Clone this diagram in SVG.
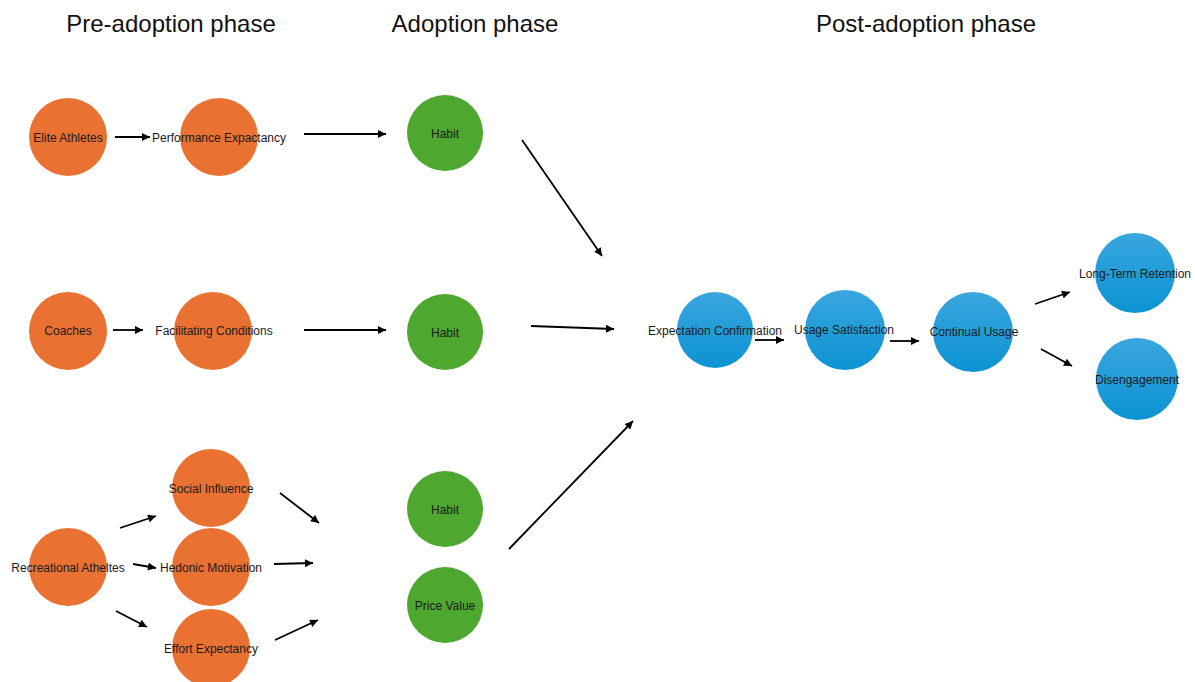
<svg xmlns="http://www.w3.org/2000/svg" width="1195" height="682" viewBox="0 0 1195 682">
<style>
.t{font-family:"Liberation Sans",Arial,sans-serif;font-size:24px;fill:#111;text-anchor:middle}
.l{font-family:"Liberation Sans",Arial,sans-serif;font-size:12px;fill:#1a1a1a;text-anchor:middle;dominant-baseline:central}
.o{fill:#E97132}
.g{fill:#4EA72E}
.b{fill:url(#bg)}
.c{stroke:#000;stroke-width:1.8;fill:none;marker-end:url(#ah)}
</style>
<defs>
<linearGradient id="bg" x1="0" y1="0" x2="0" y2="1">
<stop offset="0" stop-color="#3AA6DF"/>
<stop offset="1" stop-color="#0B93D2"/>
</linearGradient>
<marker id="ah" viewBox="0 0 10 10" markerWidth="9" markerHeight="8" refX="10" refY="5" orient="auto" markerUnits="userSpaceOnUse">
<path d="M0,0 L10,5 L0,10 z" fill="#000"/>
</marker>
</defs>
<rect width="1195" height="682" fill="#fff"/>
<text class="t" x="171" y="32">Pre-adoption phase</text>
<text class="t" x="475" y="32">Adoption phase</text>
<text class="t" x="926" y="32">Post-adoption phase</text>

<g id="connectors">
<line class="c" x1="115" y1="137" x2="150" y2="137"/>
<line class="c" x1="304" y1="134" x2="386" y2="134"/>
<line class="c" x1="113" y1="330" x2="143" y2="330"/>
<line class="c" x1="304" y1="330" x2="386" y2="330"/>
<line class="c" x1="522" y1="140" x2="602" y2="256"/>
<line class="c" x1="531" y1="326" x2="614" y2="329"/>
<line class="c" x1="509" y1="549" x2="633" y2="421"/>
<line class="c" x1="755" y1="340" x2="784" y2="340"/>
<line class="c" x1="890" y1="341" x2="919" y2="341"/>
<line class="c" x1="1035" y1="304" x2="1070" y2="292"/>
<line class="c" x1="1041" y1="349" x2="1072" y2="366"/>
<line class="c" x1="120" y1="528" x2="156" y2="516"/>
<line class="c" x1="133" y1="564" x2="156" y2="568"/>
<line class="c" x1="116" y1="611" x2="147" y2="627"/>
<line class="c" x1="280" y1="493" x2="319" y2="523"/>
<line class="c" x1="274" y1="564" x2="313" y2="563"/>
<line class="c" x1="275" y1="640" x2="318" y2="620"/>
</g>

<g id="elite"><circle class="o" cx="68" cy="137" r="39"/><text class="l" x="68" y="138">Elite Athletes</text></g>
<g id="perf"><circle class="o" cx="219" cy="137" r="39"/><text class="l" x="219" y="138">Performance Expactancy</text></g>
<g id="coaches"><circle class="o" cx="68" cy="331" r="39"/><text class="l" x="68" y="331">Coaches</text></g>
<g id="facil"><circle class="o" cx="213" cy="331" r="39"/><text class="l" x="214" y="331">Facilitating Conditions</text></g>
<g id="recreational"><circle class="o" cx="68" cy="567" r="39"/><text class="l" x="68" y="568">Recreational Atheltes</text></g>
<g id="social"><circle class="o" cx="211" cy="488" r="39"/><text class="l" x="211" y="489">Social Influence</text></g>
<g id="hedonic"><circle class="o" cx="211" cy="567" r="39"/><text class="l" x="211" y="568">Hedonic Motivation</text></g>
<g id="effort"><circle class="o" cx="211" cy="648" r="39"/><text class="l" x="211" y="649">Effort Expectancy</text></g>

<g id="habit1"><circle class="g" cx="445" cy="133" r="38"/><text class="l" x="445" y="134">Habit</text></g>
<g id="habit2"><circle class="g" cx="445" cy="332" r="38"/><text class="l" x="445" y="333">Habit</text></g>
<g id="habit3"><circle class="g" cx="445" cy="509" r="38"/><text class="l" x="445" y="510">Habit</text></g>
<g id="price"><circle class="g" cx="445" cy="605" r="38"/><text class="l" x="445" y="606">Price Value</text></g>

<g id="expconf"><circle class="b" cx="715" cy="330" r="38"/><text class="l" x="715" y="331">Expectation Confirmation</text></g>
<g id="usagesat"><circle class="b" cx="845" cy="330" r="40"/><text class="l" x="844" y="330">Usage Satisfaction</text></g>
<g id="continual"><circle class="b" cx="973" cy="332" r="40"/><text class="l" x="974" y="332">Continual Usage</text></g>
<g id="ltr"><circle class="b" cx="1135" cy="273" r="40"/><text class="l" x="1135" y="274">Long-Term Retention</text></g>
<g id="diseng"><circle class="b" cx="1137" cy="379" r="41"/><text class="l" x="1137" y="380">Disengagement</text></g>
</svg>
